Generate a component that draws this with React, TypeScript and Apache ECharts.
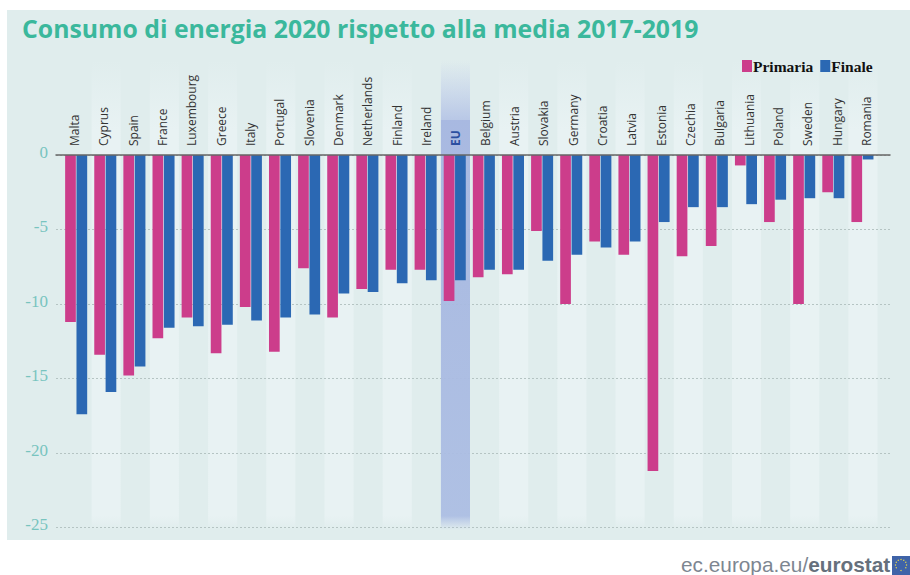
import React, { useEffect, useRef } from "react";
import * as echarts from "echarts";

const categories = ["Malta","Cyprus","Spain","France","Luxembourg","Greece","Italy","Portugal","Slovenia","Denmark","Netherlands","Finland","Ireland","EU","Belgium","Austria","Slovakia","Germany","Croatia","Latvia","Estonia","Czechia","Bulgaria","Lithuania","Poland","Sweden","Hungary","Romania"];
const primaria = [-11.2,-13.4,-14.8,-12.3,-10.9,-13.3,-10.2,-13.2,-7.6,-10.9,-9.0,-7.7,-7.7,-9.8,-8.2,-8.0,-5.1,-10.0,-5.8,-6.7,-21.2,-6.8,-6.1,-0.7,-4.5,-10.0,-2.5,-4.5];
const finale = [-17.4,-15.9,-14.2,-11.6,-11.5,-11.4,-11.1,-10.9,-10.7,-9.3,-9.2,-8.6,-8.4,-8.4,-7.7,-7.7,-7.1,-6.7,-6.2,-5.8,-4.5,-3.5,-3.5,-3.3,-3.0,-2.9,-2.9,-0.3];
const euBand = categories.map((c) => (c === "EU" ? 1 : null));
const title = "Consumo di energia 2020 rispetto alla media 2017-2019";

const fade = (color: string, top: number, bottom: number) => ({
  type: "linear", x: 0, y: 0, x2: 0, y2: 1,
  colorStops: [
    { offset: 0, color: "rgba(232,242,243,0)" },
    { offset: top, color },
    { offset: bottom, color },
    { offset: 1, color: "rgba(232,242,243,0)" },
  ],
});

export default function App() {
  const ref = useRef<HTMLDivElement>(null);
  useEffect(() => {
    const chart = echarts.init(ref.current!, undefined, { renderer: "svg" });
    const stars = Array.from({ length: 12 }, (_, i) => ({
      type: "circle",
      shape: { cx: 901 + 5.5 * Math.sin((i * Math.PI) / 6), cy: 565 + 5.5 * Math.cos((i * Math.PI) / 6), r: 0.7 },
      style: { fill: "#e8d84a" },
    }));
    chart.setOption({
      animation: false,
      backgroundColor: "#ffffff",
      textStyle: { fontFamily: "Open Sans" },
      graphic: [
        { type: "rect", z: -10, silent: true, shape: { x: 7, y: 10, width: 903, height: 530 }, style: { fill: "#e0eded" } },
        { type: "text", x: 22, y: 15, style: { text: title, fill: "#3bb89c", font: "bold 24.8px 'Open Sans'" } },
        {
          type: "text", x: 681, y: 554,
          style: {
            text: "{a|ec.europa.eu/}{b|eurostat}",
            rich: {
              a: { fill: "#7d8691", font: "20.8px 'Liberation Sans'" },
              b: { fill: "#66707c", font: "bold 20.8px 'Liberation Sans'" },
            },
          },
        },
        { type: "rect", shape: { x: 892, y: 556, width: 18, height: 19 }, style: { fill: "#3f63a8" } },
        ...stars,
      ],
      legend: {
        data: ["Primaria", "Finale"],
        left: 737, top: 53, itemWidth: 10, itemHeight: 12, itemGap: 7,
        icon: "rect",
        textStyle: { fontFamily: "Liberation Serif", fontWeight: "bold", fontSize: 15.5, color: "#111", padding: [0, 0, 0, -4] },
      },
      grid: [
        { left: 61.6, top: 155, width: 815.4, height: 372.5 },
        { left: 56, top: 155, width: 834, height: 372.5 },
        { left: 62.5, top: 60, width: 815, height: 470 },
        { left: 60, top: 155, width: 821.3, height: 372.5 },
        { left: 56, top: 152, width: 834, height: 372.5 },
      ],
      xAxis: [
        {
          type: "category", gridIndex: 0, data: categories, position: "top",
          axisLine: { show: false }, axisTick: { show: false }, axisLabel: { show: false },
        },
        {
          type: "category", gridIndex: 1, data: [""], position: "top", z: 5,
          axisLine: { show: true, lineStyle: { color: "#666", width: 1.5 } },
          axisTick: { show: false }, axisLabel: { show: false },
        },
        {
          type: "category", gridIndex: 2, data: categories, z: 0,
          axisLine: { show: false }, axisTick: { show: false }, axisLabel: { show: false },
          splitArea: {
            show: true, interval: 0,
            areaStyle: { color: ["rgba(232,242,243,0)", fade("#e8f2f3", 0.15, 0.97)] },
          },
        },
        {
          type: "category", gridIndex: 3, data: categories, position: "top", z: 6,
          axisLine: { show: false }, axisTick: { show: false },
          axisLabel: {
            interval: 0, rotate: 90, margin: 9, color: "#333", fontSize: 12, fontFamily: "Open Sans",
            formatter: (v: string) => (v === "EU" ? `{eu|${v}}` : v),
            rich: { eu: { color: "#2b4fa0", fontWeight: "bold", fontSize: 12, fontFamily: "Open Sans" } },
          },
        },
        { type: "category", gridIndex: 4, data: [""], show: false },
      ],
      yAxis: [
        { type: "value", gridIndex: 0, min: -25, max: 0, show: false },
        {
          type: "value", gridIndex: 1, min: -25, max: 0, interval: 5, z: 1,
          axisLine: { show: false }, axisTick: { show: false }, axisLabel: { show: false },
          splitLine: { show: true, lineStyle: { color: "#b5c4c3", type: [2, 2], width: 1 } },
        },
        { type: "value", gridIndex: 2, min: 0, max: 1, show: false },
        { type: "value", gridIndex: 3, min: -25, max: 0, show: false },
        {
          type: "value", gridIndex: 4, min: -25, max: 0, interval: 5, z: 1,
          axisLine: { show: false }, axisTick: { show: false }, splitLine: { show: false },
          axisLabel: { color: "#78c4bf", fontSize: 17, margin: 8, fontFamily: "Liberation Sans Narrow" },
        },
      ],
      series: [
        {
          name: "EU band", type: "bar", xAxisIndex: 2, yAxisIndex: 2, data: euBand, barWidth: "100%", z: 1, silent: true,
          itemStyle: {
            color: {
              type: "linear", x: 0, y: 0, x2: 0, y2: 1,
              colorStops: [
                { offset: 0, color: "rgba(176,192,228,0)" },
                { offset: 0.128, color: "rgba(176,192,228,0.85)" },
                { offset: 0.128, color: "rgba(165,182,224,0.95)" },
                { offset: 0.97, color: "rgba(172,190,227,0.95)" },
                { offset: 1, color: "rgba(172,190,227,0)" },
              ],
            },
          },
        },
        { name: "Primaria", type: "bar", xAxisIndex: 0, yAxisIndex: 0, data: primaria, barWidth: 10.7, barGap: "6%", z: 3, itemStyle: { color: "#cc3d8b" } },
        { name: "Finale", type: "bar", xAxisIndex: 0, yAxisIndex: 0, data: finale, barWidth: 10.7, barGap: "6%", z: 3, itemStyle: { color: "#2b68b3" } },
      ],
    });
    return () => chart.dispose();
  }, []);
  return <div ref={ref} style={{ position: "absolute", left: 0, top: 0, width: 910, height: 575 }} />;
}
